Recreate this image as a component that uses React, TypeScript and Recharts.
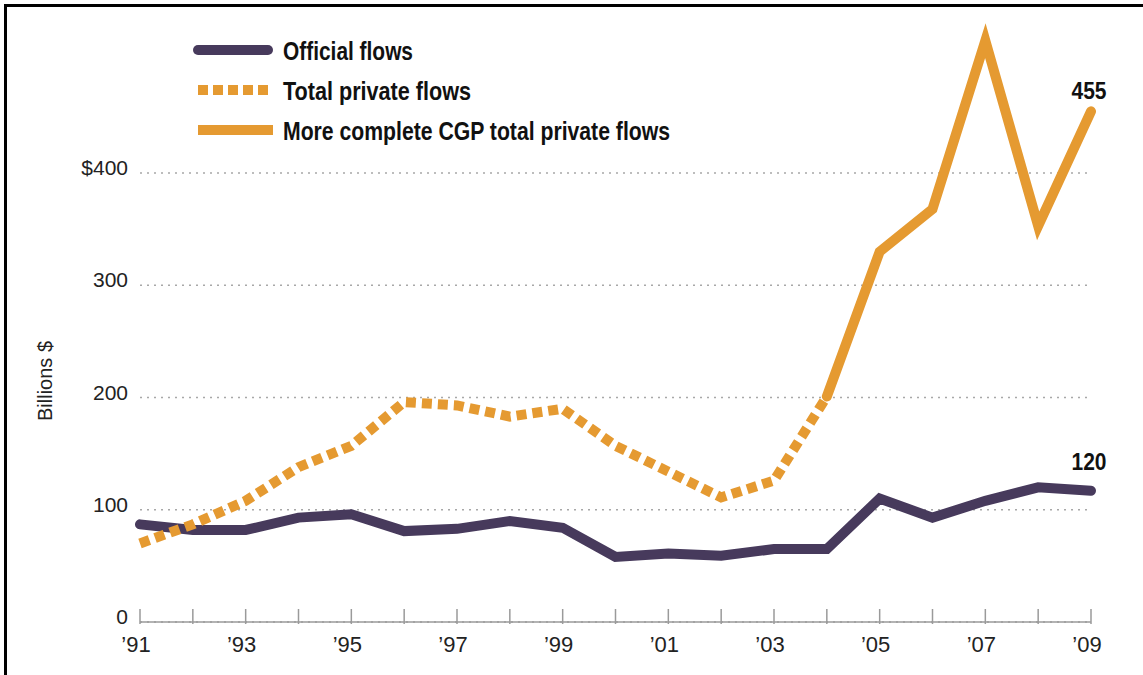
import React from 'react';
import { LineChart, Line, XAxis, YAxis, CartesianGrid, Legend, LabelList } from 'recharts';

// values (billions of dollars)
const years = [1991, 1992, 1993, 1994, 1995, 1996, 1997, 1998, 1999, 2000, 2001, 2002, 2003, 2004, 2005, 2006, 2007, 2008, 2009];
const officialFlows = [87, 82, 82, 93, 96, 81, 83, 90, 84, 58, 61, 59, 65, 65, 110, 93, 108, 120, 117];
const totalPrivateFlows = [70, 87, 108, 138, 157, 196, 193, 183, 190, 157, 134, 111, 126, 201, null, null, null, null, null];
const cgpPrivateFlows = [null, null, null, null, null, null, null, null, null, null, null, null, null, 201, 330, 368, 518, 353, 455];

const yTicks = [0, 100, 200, 300, 400];
const yTickLabels = ['0', '100', '200', '300', '$400'];
const endLabels = { official: '120', cgp: '455' };

const PURPLE = '#473A5C';
const ORANGE = '#E59A31';
const AXIS = '#9a9a9a';
const FONT = "'Liberation Sans', Arial, sans-serif";

// text widths are squeezed to mimic the condensed face of the original
const legendItems = [
  { name: 'Official flows', color: PURPLE, dash: undefined, cap: 'round', textWidth: 130 },
  { name: 'Total private flows', color: ORANGE, dash: '10 5', cap: 'butt', textWidth: 188 },
  { name: 'More complete CGP total private flows', color: ORANGE, dash: undefined, cap: 'butt', textWidth: 387 },
];

const data = years.map((year, i) => ({
  year,
  official: officialFlows[i],
  total: totalPrivateFlows[i],
  cgp: cgpPrivateFlows[i],
}));

const XTick = ({ x, y, payload }: any) => {
  const yr = payload.value as number;
  return (
    <g>
      <line x1={x} x2={x} y1={y - 15} y2={y} stroke={AXIS} strokeWidth={1.5} />
      {yr % 2 === 1 && (
        <text x={x} y={y + 28} dx={-4} textAnchor="middle" fontFamily={FONT} fontSize={22} fill="#222">
          {'\u2019' + String(yr).slice(2)}
        </text>
      )}
    </g>
  );
};

const YTick = ({ x, y, payload }: any) => {
  const idx = yTicks.indexOf(payload.value);
  return (
    <text x={x} y={y + 2} textAnchor="end" fontFamily={FONT} fontSize={21} fill="#222">
      {yTickLabels[idx]}
    </text>
  );
};

const renderLegend = () => (
  <svg width={950} height={160}>
    {legendItems.map((item, i) => {
      const cy = 50 + i * 40;
      return (
        <g key={item.name}>
          <line
            x1={198}
            x2={item.cap === 'round' ? 268 : 273}
            y1={cy}
            y2={cy}
            stroke={item.color}
            strokeWidth={10}
            strokeDasharray={item.dash}
            strokeLinecap={item.cap as any}
          />
          <text x={283} y={cy + 10} fontFamily={FONT} fontWeight="bold" fontSize={26} fill="#111"
            textLength={item.textWidth} lengthAdjust="spacingAndGlyphs">
            {item.name}
          </text>
        </g>
      );
    })}
  </svg>
);

const makeEndLabel = (text: string, dy: number) => (props: any) => {
  const { x, y, index } = props;
  if (index !== years.length - 1 || x == null || y == null) return null;
  return (
    <text x={x - 2} y={y + dy} textAnchor="middle" fontFamily={FONT} fontWeight="bold" fontSize={24} fill="#111"
      textLength={35} lengthAdjust="spacingAndGlyphs">
      {text}
    </text>
  );
};

const YLabel = (props: any) => {
  const { viewBox } = props;
  const cx = 45;
  const cy = viewBox.y + viewBox.height / 2 + 62;
  return (
    <text x={cx} y={cy} transform={`rotate(-90 ${cx} ${cy})`} textAnchor="middle" dominantBaseline="central"
      fontFamily={FONT} fontSize={20} fill="#222">
      Billions $
    </text>
  );
};

export default function App() {
  return (
    <div style={{ position: 'absolute', left: 0, top: 0, width: 1143, height: 675, overflow: 'hidden', background: '#fff' }}>
      <div style={{ position: 'absolute', left: 4, top: 4, width: 1139, height: 671, borderTop: '3px solid #000', borderLeft: '3px solid #000', boxSizing: 'border-box' }} />
      <LineChart width={1143} height={675} data={data} margin={{ top: 16, right: 52, bottom: 0, left: 0 }}>
        <CartesianGrid vertical={false} horizontalValues={yTicks} stroke="#a8a8a8" strokeWidth={1.5} strokeDasharray="2 5" />
        <XAxis
          dataKey="year"
          type="category"
          interval={0}
          padding={{ left: 0, right: 0 }}
          tickSize={0}
          tickLine={false}
          axisLine={{ stroke: AXIS, strokeWidth: 1.5 }}
          tick={<XTick />}
          height={53}
        />
        <YAxis
          domain={[0, 540]}
          ticks={yTicks}
          width={140}
          axisLine={false}
          tickLine={false}
          tickSize={0}
          tickMargin={12}
          tick={<YTick />}
          label={<YLabel />}
        />
        <Legend verticalAlign="middle" layout="horizontal" content={renderLegend}
          wrapperStyle={{ position: 'absolute', top: 0, left: 0, width: 950, height: 160 }} />
        <Line
          dataKey="official"
          name="Official flows"
          stroke={PURPLE}
          strokeWidth={10}
          strokeLinecap="round"
          strokeLinejoin="miter"
          dot={false}
          activeDot={false}
          isAnimationActive={false}
        >
          <LabelList dataKey="official" content={makeEndLabel(endLabels.official, -21)} />
        </Line>
        <Line
          dataKey="total"
          name="Total private flows"
          stroke={ORANGE}
          strokeWidth={10}
          strokeDasharray="10 6"
          strokeLinejoin="miter"
          dot={false}
          activeDot={false}
          isAnimationActive={false}
        />
        <Line
          dataKey="cgp"
          name="More complete CGP total private flows"
          stroke={ORANGE}
          strokeWidth={10}
          strokeLinecap="round"
          strokeLinejoin="miter"
          dot={false}
          activeDot={false}
          isAnimationActive={false}
        >
          <LabelList dataKey="cgp" content={makeEndLabel(endLabels.cgp, -12)} />
        </Line>
      </LineChart>
    </div>
  );
}
